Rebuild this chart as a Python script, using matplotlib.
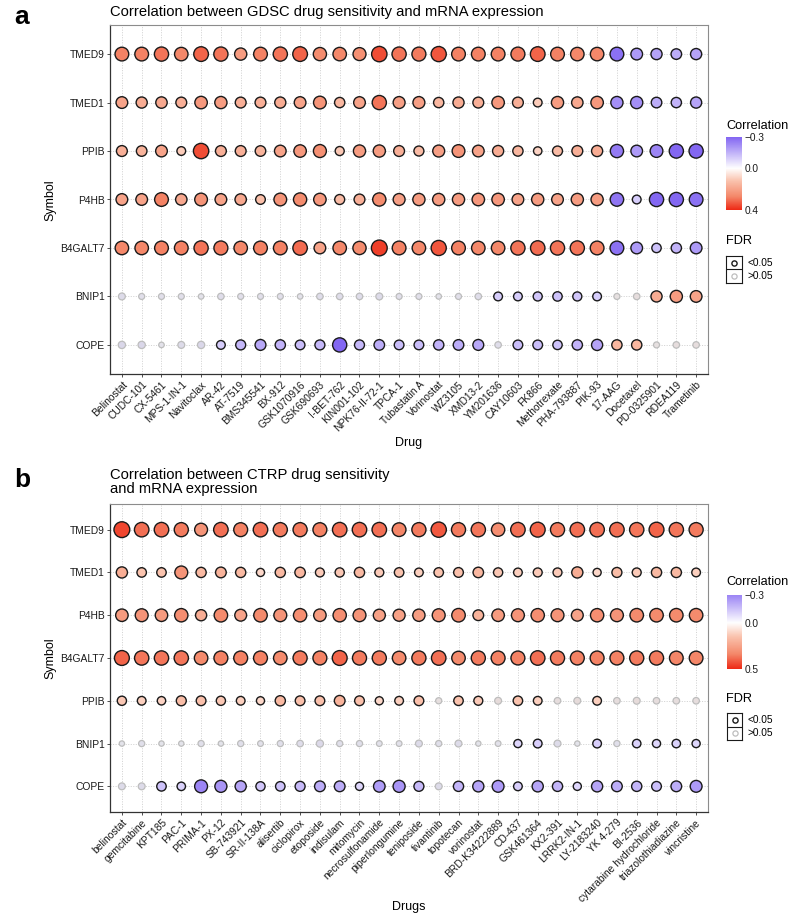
import numpy as np
import matplotlib
matplotlib.use('Agg')
import matplotlib.pyplot as plt
from matplotlib.colors import LinearSegmentedColormap, Normalize, to_rgba

plt.rcParams['font.family'] = ['Liberation Sans', 'DejaVu Sans']

# ---- panel a: GDSC ----
genes_a = ['TMED9', 'TMED1', 'PPIB', 'P4HB', 'B4GALT7', 'BNIP1', 'COPE']
drugs_a = ['Belinostat', 'CUDC-101', 'CX-5461', 'MPS-1-IN-1', 'Navitoclax', 'AR-42', 'AT-7519',
           'BMS345541', 'BX-912', 'GSK1070916', 'GSK690693', 'I-BET-762', 'KIN001-102',
           'NPK76-II-72-1', 'TPCA-1', 'Tubastatin A', 'Vorinostat', 'WZ3105', 'XMD13-2',
           'YM201636', 'CAY10603', 'FK866', 'Methotrexate', 'PHA-793887', 'PIK-93', '17-AAG',
           'Docetaxel', 'PD-0325901', 'RDEA119', 'Trametinib']
cor_a = [
    [0.28, 0.28, 0.30, 0.27, 0.32, 0.30, 0.22, 0.28, 0.30, 0.32, 0.26, 0.27, 0.25, 0.35, 0.30,
     0.29, 0.34, 0.28, 0.28, 0.28, 0.29, 0.32, 0.28, 0.27, 0.27, -0.28, -0.20, -0.18, -0.16, -0.18],
    [0.20, 0.18, 0.19, 0.17, 0.23, 0.22, 0.17, 0.17, 0.18, 0.20, 0.24, 0.15, 0.20, 0.30, 0.21,
     0.21, 0.15, 0.18, 0.17, 0.23, 0.17, 0.10, 0.22, 0.19, 0.23, -0.22, -0.22, -0.16, -0.15, -0.18],
    [0.17, 0.16, 0.20, 0.10, 0.35, 0.17, 0.17, 0.16, 0.20, 0.23, 0.25, 0.11, 0.22, 0.22, 0.17,
     0.14, 0.21, 0.24, 0.20, 0.18, 0.15, 0.09, 0.14, 0.17, 0.18, -0.26, -0.20, -0.24, -0.30, -0.30],
    [0.20, 0.20, 0.28, 0.19, 0.24, 0.20, 0.19, 0.13, 0.24, 0.26, 0.23, 0.14, 0.17, 0.26, 0.21,
     0.22, 0.22, 0.22, 0.23, 0.23, 0.20, 0.22, 0.20, 0.22, 0.22, -0.27, -0.10, -0.30, -0.30, -0.28],
    [0.27, 0.27, 0.28, 0.28, 0.30, 0.29, 0.27, 0.28, 0.28, 0.31, 0.20, 0.27, 0.26, 0.37, 0.28,
     0.27, 0.34, 0.28, 0.27, 0.27, 0.30, 0.31, 0.30, 0.30, 0.28, -0.28, -0.20, -0.12, -0.15, -0.20],
    [-0.05, -0.03, -0.03, -0.03, -0.02, -0.04, -0.03, -0.03, -0.03, -0.02, -0.04, -0.04, -0.04, -0.05, -0.03,
     -0.03, -0.02, -0.03, -0.04, -0.10, -0.10, -0.11, -0.12, -0.11, -0.10, 0.03, 0.04, 0.18, 0.22, 0.20],
    [-0.06, -0.06, -0.02, -0.05, -0.06, -0.10, -0.14, -0.17, -0.15, -0.13, -0.14, -0.30, -0.14, -0.16, -0.13,
     -0.13, -0.15, -0.16, -0.17, -0.04, -0.13, -0.13, -0.12, -0.15, -0.18, 0.15, 0.15, 0.03, 0.04, 0.04],
]
# 1 = FDR < 0.05
sig_a = ['1' * 30, '1' * 30, '1' * 30, '1' * 30, '1' * 30,
         '0000000000000000000' + '111111' + '00' + '111',
         '00000' + '11111111111111' + '0' + '1111111' + '000']

# ---- panel b: CTRP ----
genes_b = ['TMED9', 'TMED1', 'P4HB', 'B4GALT7', 'PPIB', 'BNIP1', 'COPE']
drugs_b = ['belinostat', 'gemcitabine', 'KPT185', 'PAC-1', 'PRIMA-1', 'PX-12', 'SB-743921',
           'SR-II-138A', 'alisertib', 'ciclopirox', 'etoposide', 'indisulam', 'mitomycin',
           'necrosulfonamide', 'piperlongumine', 'teniposide', 'tivantinib', 'topotecan',
           'vorinostat', 'BRD-K34222889', 'CD-437', 'GSK461364', 'KX2-391', 'LRRK2-IN-1',
           'LY-2183240', 'YK 4-279', 'BI-2536', 'cytarabine hydrochloride', 'triazolothiadiazine',
           'vincristine']
cor_b = [
    [0.45, 0.38, 0.38, 0.36, 0.30, 0.38, 0.35, 0.38, 0.36, 0.36, 0.35, 0.38, 0.38, 0.38, 0.34,
     0.36, 0.42, 0.36, 0.37, 0.32, 0.38, 0.40, 0.36, 0.38, 0.38, 0.38, 0.37, 0.40, 0.37, 0.36],
    [0.22, 0.15, 0.15, 0.30, 0.18, 0.20, 0.18, 0.10, 0.18, 0.19, 0.13, 0.14, 0.18, 0.13, 0.15,
     0.12, 0.15, 0.16, 0.19, 0.14, 0.12, 0.13, 0.13, 0.22, 0.10, 0.17, 0.13, 0.18, 0.18, 0.12],
    [0.28, 0.30, 0.28, 0.32, 0.22, 0.33, 0.25, 0.33, 0.30, 0.32, 0.28, 0.32, 0.30, 0.26, 0.26,
     0.27, 0.30, 0.33, 0.20, 0.28, 0.30, 0.32, 0.30, 0.25, 0.32, 0.30, 0.33, 0.33, 0.33, 0.33],
    [0.40, 0.37, 0.37, 0.37, 0.33, 0.35, 0.35, 0.35, 0.33, 0.36, 0.35, 0.40, 0.36, 0.36, 0.33,
     0.36, 0.38, 0.33, 0.36, 0.35, 0.35, 0.38, 0.36, 0.35, 0.35, 0.35, 0.36, 0.36, 0.34, 0.34],
    [0.14, 0.12, 0.11, 0.17, 0.16, 0.14, 0.12, 0.10, 0.18, 0.16, 0.16, 0.20, 0.16, 0.10, 0.12,
     0.16, 0.04, 0.15, 0.13, 0.06, 0.15, 0.12, 0.05, 0.06, 0.12, 0.05, 0.06, 0.05, 0.05, 0.05],
    [-0.02, -0.04, -0.02, -0.02, -0.04, -0.02, -0.04, -0.03, -0.04, -0.05, -0.07, -0.04, -0.04, -0.03, -0.03,
     -0.06, -0.04, -0.06, -0.02, -0.03, -0.10, -0.12, -0.06, -0.02, -0.12, -0.04, -0.11, -0.10, -0.11, -0.10],
    [-0.06, -0.06, -0.15, -0.11, -0.30, -0.26, -0.22, -0.14, -0.15, -0.17, -0.20, -0.20, -0.10, -0.24, -0.26,
     -0.17, -0.06, -0.18, -0.22, -0.25, -0.12, -0.22, -0.18, -0.10, -0.22, -0.20, -0.18, -0.16, -0.20, -0.25],
]
sig_b = ['1' * 30, '1' * 30, '1' * 30, '1' * 30,
         '1111111111111111' + '0' + '11' + '0' + '11' + '00' + '1' + '00000',
         '00000000000000000000' + '11' + '00' + '1' + '0' + '1111',
         '00' + '1' * 14 + '0' + '1' * 13]

# diverging fill, white at 0 (like a gradient2 with symmetric rescaling)
cmap = LinearSegmentedColormap.from_list(
    'cor', [(0.0, '#5A34EE'), (0.5, '#FFFFFF'), (0.65, '#FAC3AE'),
            (0.84, '#F4886A'), (1.0, '#EE2A16')])

fig = plt.figure(figsize=(8, 9.21), dpi=100)
W, H = 800, 921


def fa(x0, y0, x1, y1):
    # pixel box (top-left origin) -> figure axes
    return fig.add_axes([x0 / W, 1 - y1 / H, (x1 - x0) / W, (y1 - y0) / H])


def draw_panel(ax, cax, lax, genes, drugs, cor, sig, vmax):
    cor = np.array(cor)
    sig = np.array([[c == '1' for c in s] for s in sig])
    ng, nd = cor.shape
    xs, ys = np.meshgrid(np.arange(nd), np.arange(ng))
    norm = Normalize(vmin=-vmax, vmax=vmax)
    cols = cmap(norm(cor))
    d_px = 4 + 11.8 * (np.abs(cor) / np.abs(cor).max()) ** 0.7
    s = (d_px * 0.72) ** 2
    gray = np.array(to_rgba('#cfcfd6'))
    ns_cols = 0.5 * cols + 0.5 * gray
    ax.scatter(xs[~sig], ys[~sig], s=s[~sig], c=ns_cols[~sig], edgecolors='#bdbdbd',
               linewidths=0.9, zorder=3)
    ax.scatter(xs[sig], ys[sig], s=s[sig], c=cols[sig], edgecolors='#1a1a1a',
               linewidths=1.0, zorder=3)
    ax.set_xlim(-0.6, nd - 0.4)
    ax.set_ylim(ng - 0.4, -0.6)
    ax.set_xticks(range(nd))
    ax.set_xticklabels(drugs, rotation=45, ha='right', rotation_mode='anchor')
    ax.set_yticks(range(ng))
    ax.set_yticklabels(genes)
    ax.set_axisbelow(True)
    ax.grid(True, color='#d0d0d0', linestyle=(0, (1.2, 1.6)), linewidth=0.65)
    ax.tick_params(length=2.5, width=0.6, color='#333333', labelsize=7.4, pad=1.5,
                   labelcolor='#1a1a1a')
    for side in ['top', 'right']:
        ax.spines[side].set_color('#8c8c8c')
        ax.spines[side].set_linewidth(0.8)
    for side in ['left', 'bottom']:
        ax.spines[side].set_color('#333333')
        ax.spines[side].set_linewidth(0.9)

    # colour bar, -0.3 at top
    vals = np.linspace(-0.3, vmax, 256)
    cax.imshow(cmap(norm(vals))[:, None, :], aspect='auto', extent=[0, 1, vmax, -0.3])
    cax.set_ylim(vmax, -0.3)
    cax.set_xticks([])
    cax.yaxis.tick_right()
    cax.set_yticks([-0.3, 0.0, vmax])
    cax.set_yticklabels(['\u22120.3', '0.0', '%.1f' % vmax])
    cax.tick_params(length=0, labelsize=7.3, pad=2, labelcolor='#1a1a1a')
    for sp in cax.spines.values():
        sp.set_visible(False)

    # FDR keys
    lax.set_xlim(0, 1)
    lax.set_ylim(2, 0)
    lax.set_xticks([])
    lax.set_yticks([])
    lax.axhline(1, color='#1a1a1a', lw=0.8)
    for sp in lax.spines.values():
        sp.set_color('#1a1a1a')
        sp.set_linewidth(0.8)
    lax.scatter([0.5], [0.5], s=14, facecolors='white', edgecolors='#1a1a1a', linewidths=1.0)
    lax.scatter([0.5], [1.5], s=14, facecolors='white', edgecolors='#bdbdbd', linewidths=0.9)
    lax.text(1.35, 0.5, '<0.05', va='center', ha='left', fontsize=7.3, clip_on=False)
    lax.text(1.35, 1.5, '>0.05', va='center', ha='left', fontsize=7.3, clip_on=False)


ax_a = fa(110, 25, 708, 374)
cax_a = fa(726, 137, 742, 210)
lax_a = fa(726, 256, 742, 283)
draw_panel(ax_a, cax_a, lax_a, genes_a, drugs_a, cor_a, sig_a, 0.4)

ax_b = fa(110, 504, 708, 812)
cax_b = fa(727, 595, 742, 669)
lax_b = fa(727, 713, 742, 740)
draw_panel(ax_b, cax_b, lax_b, genes_b, drugs_b, cor_b, sig_b, 0.5)

# texts
fig.text(22 / W, 1 - 17 / H, 'a', fontsize=19, fontweight='bold', ha='center', va='center')
fig.text(22 / W, 1 - 480 / H, 'b', fontsize=19, fontweight='bold', ha='center', va='center')
fig.text(110 / W, 1 - 12 / H, 'Correlation between GDSC drug sensitivity and mRNA expression',
         fontsize=10.6, ha='left', va='center')
fig.text(110 / W, 1 - 482 / H, 'Correlation between CTRP drug sensitivity\nand mRNA expression',
         fontsize=10.6, ha='left', va='center', linespacing=1.0)
for y in [200, 658]:
    fig.text(50 / W, 1 - y / H, 'Symbol', fontsize=9, rotation=90, ha='center', va='center')
fig.text(409 / W, 1 - 443 / H, 'Drug', fontsize=9, ha='center', va='center')
fig.text(409 / W, 1 - 907 / H, 'Drugs', fontsize=9, ha='center', va='center')
fig.text(726 / W, 1 - 126 / H, 'Correlation', fontsize=9.2, ha='left', va='center')
fig.text(726 / W, 1 - 241 / H, 'FDR', fontsize=9.2, ha='left', va='center')
fig.text(726 / W, 1 - 582 / H, 'Correlation', fontsize=9.2, ha='left', va='center')
fig.text(726 / W, 1 - 699 / H, 'FDR', fontsize=9.2, ha='left', va='center')

fig.savefig('out.png', dpi=100)
